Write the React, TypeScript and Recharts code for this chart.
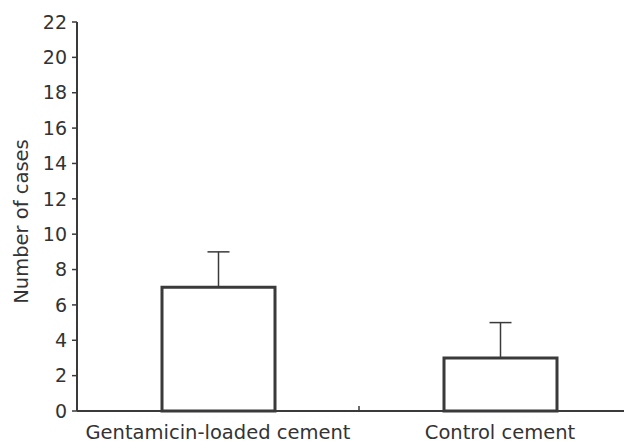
import React from 'react';
import { BarChart, Bar, XAxis, YAxis, ErrorBar } from 'recharts';

const categories = ['Gentamicin-loaded cement', 'Control cement'];
const values = [7, 3];
const errorsUp = [2, 2];
const yTicks = [0, 2, 4, 6, 8, 10, 12, 14, 16, 18, 20, 22];

const data = categories.map((name, i) => ({
  name,
  value: values[i],
  err: [0, errorsUp[i]],
}));

const INK = '#333333';
const LINE = '#3a3a3a';
const FONT = '"DejaVu Sans", sans-serif';

function XTick(props: any) {
  const { x, y, payload } = props;
  const off = payload && typeof payload.offset === 'number' ? payload.offset : 0;
  return (
    <g>
      <text x={x} y={y + 28} textAnchor="middle" fill={INK} fontSize={19.5} fontFamily={FONT}>
        {payload.value}
      </text>
      {off > 0 && (
        <line x1={x + off} x2={x + off} y1={y} y2={y - 5} stroke={LINE} strokeWidth={1.5} />
      )}
    </g>
  );
}

export default function App() {
  return (
    <div style={{ width: 624, height: 433, overflow: 'hidden' }}>
      <BarChart
        width={634}
        height={433}
        data={data}
        margin={{ top: 14, right: 1, bottom: 0, left: 9 }}
      >
        <XAxis
          dataKey="name"
          height={30}
          tickSize={0}
          tickMargin={0}
          tickLine={false}
          tick={<XTick />}
          axisLine={{ stroke: LINE, strokeWidth: 2 }}
          interval={0}
        />
        <YAxis
          width={60}
          domain={[0, 22]}
          ticks={yTicks}
          interval={0}
          tickSize={5}
          tickMargin={5}
          axisLine={{ stroke: LINE, strokeWidth: 2 }}
          tickLine={{ stroke: LINE, strokeWidth: 1.5 }}
          tick={{ fill: INK, fontSize: 19, fontFamily: FONT }}
          label={{
            value: 'Number of cases',
            angle: -90,
            position: 'insideLeft',
            offset: 4,
            dy: 5,
            style: { textAnchor: 'middle', fill: INK, fontSize: 19.5, fontFamily: FONT },
          }}
        />
        <Bar
          dataKey="value"
          barSize={113}
          fill="#ffffff"
          stroke={LINE}
          strokeWidth={3}
          isAnimationActive={false}
        >
          <ErrorBar dataKey="err" width={11} stroke={LINE} strokeWidth={1.5} direction="y" />
        </Bar>
      </BarChart>
    </div>
  );
}
